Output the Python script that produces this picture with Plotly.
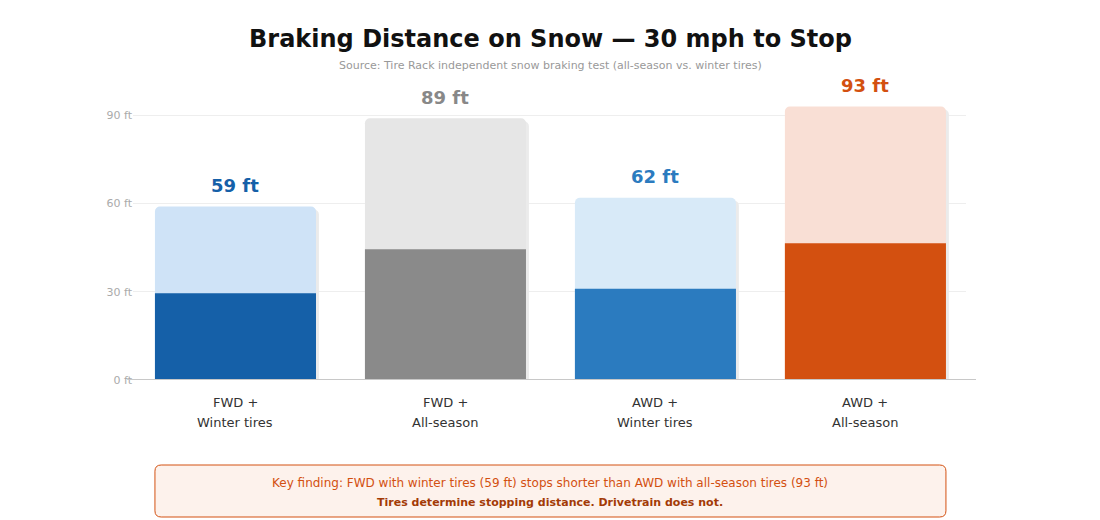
import plotly.graph_objects as go

# --- data ---
drivetrain = ["FWD +", "FWD +", "AWD +", "AWD +"]
tire_type = ["Winter tires", "All-season", "Winter tires", "All-season"]
stop_ft = [59, 89, 62, 93]
dark_colors = ["#1560a8", "#8a8a8a", "#2b7bbf", "#d35010"]
light_colors = ["#cfe3f7", "#e6e6e6", "#d8eaf8", "#f9dfd5"]
label_colors = ["#1560a8", "#888888", "#2b7bbf", "#d35010"]
y_ticks = [0, 30, 60, 90]

title = "Braking Distance on Snow — 30 mph to Stop"
subtitle = "Source: Tire Rack independent snow braking test (all-season vs. winter tires)"
finding = "Key finding: FWD with winter tires (59 ft) stops shorter than AWD with all-season tires (93 ft)"
finding_bold = "Tires determine stopping distance. Drivetrain does not."

FONT = "DejaVu Sans"
BAR_W = 0.767
BODY = 8                          # page body margin pushes the figure 8px right/down
PLOT_TOP, PLOT_BOTTOM = 86, 380   # on-screen px of the plot area
PLOT_LEFT, PLOT_RIGHT = 133, 966


def paper_y(px):
    return (PLOT_BOTTOM - px) / (PLOT_BOTTOM - PLOT_TOP)


xs = list(range(len(stop_ft)))
half = [v / 2 for v in stop_ft]

fig = go.Figure()

# soft drop shadow, a few px right and down
fig.add_trace(go.Bar(
    x=xs, y=stop_ft, base=[-1] * len(xs), width=BAR_W, offset=-BAR_W / 2 + 0.014,
    marker=dict(color="#ebebeb", line_width=0, cornerradius=5),
    hoverinfo="skip", showlegend=False,
))
# full bar, light tint
fig.add_trace(go.Bar(
    x=xs, y=stop_ft, width=BAR_W,
    marker=dict(color=light_colors, line_width=0, cornerradius=5),
    hovertemplate="%{y} ft<extra></extra>", showlegend=False,
))
# lower half, solid
fig.add_trace(go.Bar(
    x=xs, y=half, width=BAR_W,
    marker=dict(color=dark_colors, line_width=0, cornerradius=2),
    hoverinfo="skip", showlegend=False,
))

# value labels above bars + two-line category labels below
for i, v in enumerate(stop_ft):
    fig.add_annotation(
        x=i, y=v, text=f"<b>{v} ft</b>", showarrow=False, yanchor="middle", yshift=21,
        font=dict(family=FONT, size=18, color=label_colors[i]),
    )
    fig.add_annotation(x=i, y=0, text=drivetrain[i], showarrow=False, yanchor="middle", yshift=-22,
                       font=dict(family=FONT, size=13, color="#333333"))
    fig.add_annotation(x=i, y=0, text=tire_type[i], showarrow=False, yanchor="middle", yshift=-42,
                       font=dict(family=FONT, size=13, color="#333333"))

# baseline
fig.add_shape(type="line", xref="paper", yref="y", x0=-0.007, x1=1.012, y0=0, y1=0,
              line=dict(color="#c8c8c8", width=2), layer="above")

# key finding box (rounded)
x0, x1 = -BAR_W / 2, 3 + BAR_W / 2
y0, y1 = paper_y(517), paper_y(465)
rx, ry = 0.03, 0.021
path = (f"M {x0 + rx},{y1} L {x1 - rx},{y1} Q {x1},{y1} {x1},{y1 - ry} "
        f"L {x1},{y0 + ry} Q {x1},{y0} {x1 - rx},{y0} L {x0 + rx},{y0} "
        f"Q {x0},{y0} {x0},{y0 + ry} L {x0},{y1 - ry} Q {x0},{y1} {x0 + rx},{y1} Z")
fig.add_shape(type="path", xref="x", yref="paper", path=path,
              fillcolor="#fdf2ec", line=dict(color="#d35010", width=1), layer="below")
fig.add_annotation(x=1.5, xref="x", y=paper_y(483), yref="paper", text=finding, showarrow=False,
                   yanchor="middle", font=dict(family=FONT, size=12, color="#d35010"))
fig.add_annotation(x=1.5, xref="x", y=paper_y(502), yref="paper", text=f"<b>{finding_bold}</b>",
                   showarrow=False, yanchor="middle", font=dict(family=FONT, size=11, color="#a33a06"))

# title + subtitle (centred on the page)
page_mid = (550 - PLOT_LEFT) / (PLOT_RIGHT - PLOT_LEFT)
fig.add_annotation(x=page_mid, xref="paper", y=paper_y(39), yref="paper", text=f"<b>{title}</b>",
                   showarrow=False, yanchor="middle", font=dict(family=FONT, size=24, color="#111111"))
fig.add_annotation(x=page_mid, xref="paper", y=paper_y(65), yref="paper", text=subtitle,
                   showarrow=False, yanchor="middle", font=dict(family=FONT, size=11, color="#999999"))

fig.update_layout(
    width=1100, height=520,
    margin=dict(l=PLOT_LEFT - BODY, r=1100 - (PLOT_RIGHT - BODY),
                t=PLOT_TOP - BODY, b=520 - (PLOT_BOTTOM - BODY)),
    barmode="overlay",
    plot_bgcolor="white", paper_bgcolor="white",
    font=dict(family=FONT),
    showlegend=False,
    xaxis=dict(
        range=[-0.488, 3.479], showticklabels=False, showgrid=False, showline=False,
        zeroline=False, ticks="",
    ),
    yaxis=dict(
        range=[0, 100], tickmode="array", tickvals=y_ticks, ticktext=[f"{t} ft" for t in y_ticks],
        tickfont=dict(size=11, color="#aaaaaa"), gridcolor="#eeeeee", gridwidth=1,
        zeroline=False, showline=False, ticks="",
    ),
)

fig.write_html("out.html")
